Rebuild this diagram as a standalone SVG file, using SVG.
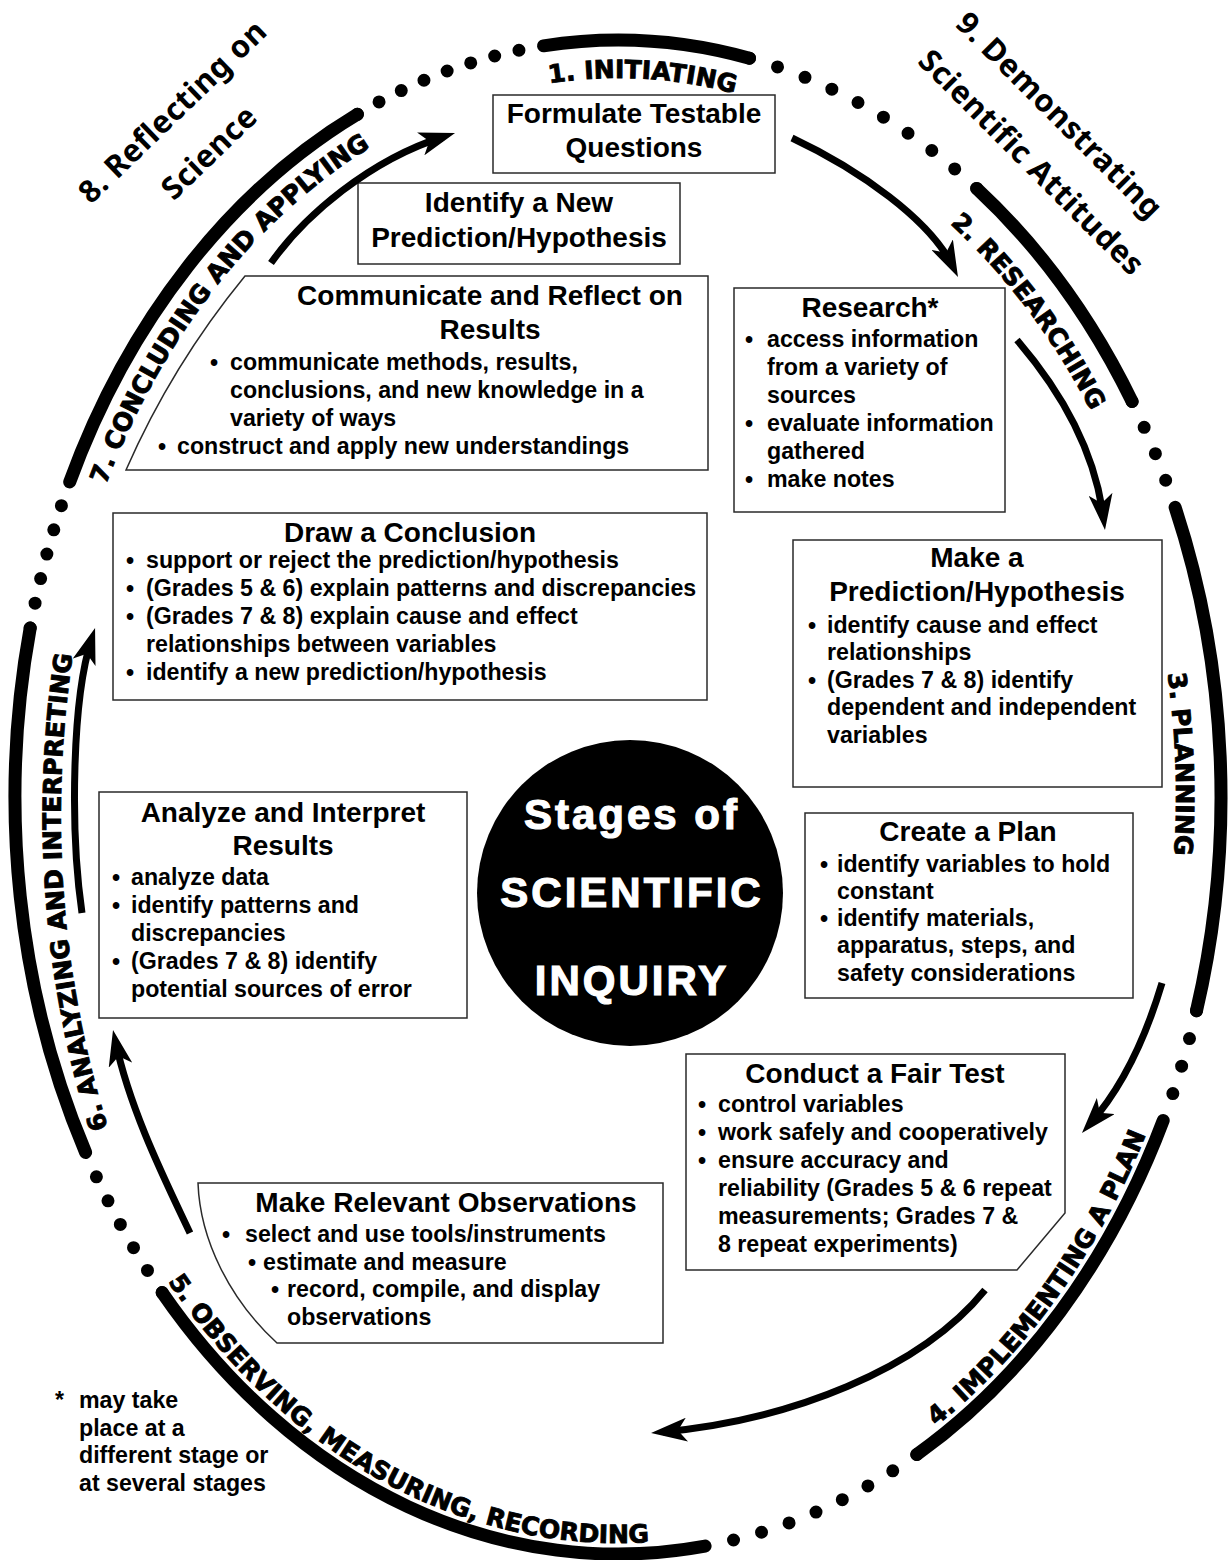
<svg xmlns="http://www.w3.org/2000/svg" width="1230" height="1560" viewBox="0 0 1230 1560">
<style>
.box{fill:#fff;stroke:#2a2a2a;stroke-width:1.5}
.t{font-family:"Liberation Sans",Arial,sans-serif;font-weight:bold;font-size:28px;text-anchor:middle;fill:#000}
.b{font-family:"Liberation Sans",Arial,sans-serif;font-weight:bold;font-size:23.2px;fill:#000}
.arc{fill:none;stroke:#000;stroke-width:13;stroke-linecap:round}
.dot{fill:none;stroke:#000;stroke-width:13;stroke-linecap:round;stroke-dasharray:0 1}
.lab{font-family:"DejaVu Sans",sans-serif;font-weight:bold;font-size:25px;fill:#000;stroke:#000;stroke-width:0.9}
.hand{font-family:"Noto Sans",sans-serif;font-weight:bold;font-size:31px;letter-spacing:0.5px;fill:#000}
.arr{fill:none;stroke:#000;stroke-width:7;marker-end:url(#ah)}
.ctr{font-family:"Liberation Sans",Arial,sans-serif;font-weight:bold;font-size:42px;letter-spacing:3px;text-anchor:middle;fill:#fff;stroke:#fff;stroke-width:1.2}
</style>
<defs>
<marker id="ah" markerUnits="userSpaceOnUse" viewBox="0 0 36 24" markerWidth="36" markerHeight="24" refX="24" refY="12" orient="auto">
<path d="M36,12 L0,0 L9,12 L0,24 Z" fill="#000"/>
</marker>
<path id="p1" d="M446.8,111.6 A566,719 0 0,1 833.7,132.3"/>
<path id="p2" d="M865.3,159.8 A564,709 0 0,1 1133.2,508.6"/>
<path id="p3" d="M1132.8,522.2 A558,712 0 0,1 1150.8,1008.7"/>
<path id="p4" d="M936.1,1426.2 A592,746 0 0,0 1201,926.5"/>
<path id="p5" d="M167.8,1281.5 A592,746 0 0,0 771.2,1517.6"/>
<path id="p6" d="M115,1150 Q28.5,890 80,610"/>
<path id="p7" d="M105.8,485 A568,722 0 0,1 471,99.6"/>
</defs>
<rect width="1230" height="1560" fill="#fff"/>

<g id="ring">
<path class="arc" d="M543.5,45.8 A603,757 0 0,1 749.5,58.2"/>
<path class="arc" d="M976.7,188.4 A603,757 0 0,1 1132.1,401.5"/>
<path class="arc" d="M1175.1,507.3 A603,757 0 0,1 1196.5,1010.7"/>
<path class="arc" d="M1163.2,1120.5 A603,757 0 0,1 916.8,1454.5"/>
<path class="arc" d="M705.1,1546.1 A603,757 0 0,1 162.2,1292.6"/>
<path class="arc" d="M85.6,1152.4 A603,757 0 0,1 30.2,628"/>
<path class="arc" d="M69.7,481.9 A603,757 0 0,1 357.4,114.3"/>
<path class="dot" pathLength="9" d="M749.5,58.2 A603,757 0 0,1 976.7,188.4"/>
<path class="dot" pathLength="4" d="M1132.1,401.5 A603,757 0 0,1 1175.1,507.3"/>
<path class="dot" pathLength="4" d="M1196.5,1010.7 A603,757 0 0,1 1163.2,1120.5"/>
<path class="dot" pathLength="8" d="M916.8,1454.5 A603,757 0 0,1 705.1,1546.1"/>
<path class="dot" pathLength="6" d="M162.2,1292.6 A603,757 0 0,1 85.6,1152.4"/>
<path class="dot" pathLength="6" d="M30.2,628 A603,757 0 0,1 69.7,481.9"/>
<path class="dot" pathLength="8" d="M357.4,114.3 A603,757 0 0,1 543.5,45.8"/>
<text class="lab"><textPath href="#p1" startOffset="50%" text-anchor="middle">1. INITIATING</textPath></text>
<text class="lab"><textPath href="#p2" startOffset="50%" text-anchor="middle">2. RESEARCHING</textPath></text>
<text class="lab"><textPath href="#p3" startOffset="50%" text-anchor="middle">3. PLANNING</textPath></text>
<text class="lab"><textPath href="#p4">4. IMPLEMENTING A PLAN</textPath></text>
<text class="lab"><textPath href="#p5">5. OBSERVING, MEASURING, RECORDING</textPath></text>
<text class="lab"><textPath href="#p6" startOffset="48%" text-anchor="middle">6. ANALYZING AND INTERPRETING</textPath></text>
<text class="lab"><textPath href="#p7">7. CONCLUDING AND APPLYING</textPath></text>
<text class="hand" transform="translate(91,205) rotate(-44)"><tspan x="0" y="0">8. Reflecting on</tspan><tspan x="62" y="55">Science</tspan></text>
<text class="hand" transform="translate(954,25) rotate(45)"><tspan x="0" y="0">9. Demonstrating</tspan><tspan x="0" y="53">Scientific Attitudes</tspan></text>
</g>

<g id="formulate">
<rect class="box" x="493" y="95" width="282" height="78"/>
<text class="t" x="634" y="123">Formulate Testable</text>
<text class="t" x="634" y="157">Questions</text>
</g>

<g id="identify-new">
<rect class="box" x="358" y="183" width="322" height="81"/>
<text class="t" x="519" y="212">Identify a New</text>
<text class="t" x="519" y="247">Prediction/Hypothesis</text>
</g>

<g id="communicate">
<path class="box" d="M245,276 L708,276 L708,470 L126,470 Q172,365 245,276 Z"/>
<text class="t" x="490" y="305">Communicate and Reflect on</text>
<text class="t" x="490" y="339">Results</text>
<text class="b" x="210" y="370">•<tspan x="230">communicate methods, results,</tspan></text>
<text class="b" x="230" y="398">conclusions, and new knowledge in a</text>
<text class="b" x="230" y="426">variety of ways</text>
<text class="b" x="158" y="454">•<tspan x="177">construct and apply new understandings</tspan></text>
</g>

<g id="research">
<rect class="box" x="734" y="288" width="271" height="224"/>
<text class="t" x="870" y="317">Research*</text>
<text class="b" x="745" y="347">•<tspan x="767">access information</tspan></text>
<text class="b" x="767" y="375">from a variety of</text>
<text class="b" x="767" y="403">sources</text>
<text class="b" x="745" y="431">•<tspan x="767">evaluate information</tspan></text>
<text class="b" x="767" y="459">gathered</text>
<text class="b" x="745" y="487">•<tspan x="767">make notes</tspan></text>
</g>

<g id="draw-conclusion">
<rect class="box" x="113" y="513" width="594" height="187"/>
<text class="t" x="410" y="542">Draw a Conclusion</text>
<text class="b" x="126" y="568">•<tspan x="146">support or reject the prediction/hypothesis</tspan></text>
<text class="b" x="126" y="596">•<tspan x="146">(Grades 5 &amp; 6) explain patterns and discrepancies</tspan></text>
<text class="b" x="126" y="624">•<tspan x="146">(Grades 7 &amp; 8) explain cause and effect</tspan></text>
<text class="b" x="146" y="652">relationships between variables</text>
<text class="b" x="126" y="680">•<tspan x="146">identify a new prediction/hypothesis</tspan></text>
</g>

<g id="make-prediction">
<rect class="box" x="793" y="540" width="369" height="247"/>
<text class="t" x="977" y="567">Make a</text>
<text class="t" x="977" y="601">Prediction/Hypothesis</text>
<text class="b" x="808" y="633">•<tspan x="827">identify cause and effect</tspan></text>
<text class="b" x="827" y="660">relationships</text>
<text class="b" x="808" y="688">•<tspan x="827">(Grades 7 &amp; 8) identify</tspan></text>
<text class="b" x="827" y="715">dependent and independent</text>
<text class="b" x="827" y="743">variables</text>
</g>

<g id="create-plan">
<rect class="box" x="805" y="813" width="328" height="185"/>
<text class="t" x="968" y="841">Create a Plan</text>
<text class="b" x="820" y="872">•<tspan x="837">identify variables to hold</tspan></text>
<text class="b" x="837" y="899">constant</text>
<text class="b" x="820" y="926">•<tspan x="837">identify materials,</tspan></text>
<text class="b" x="837" y="953">apparatus, steps, and</text>
<text class="b" x="837" y="981">safety considerations</text>
</g>

<g id="analyze">
<rect class="box" x="99" y="792" width="368" height="226"/>
<text class="t" x="283" y="822">Analyze and Interpret</text>
<text class="t" x="283" y="855">Results</text>
<text class="b" x="112" y="885">•<tspan x="131">analyze data</tspan></text>
<text class="b" x="112" y="913">•<tspan x="131">identify patterns and</tspan></text>
<text class="b" x="131" y="941">discrepancies</text>
<text class="b" x="112" y="969">•<tspan x="131">(Grades 7 &amp; 8) identify</tspan></text>
<text class="b" x="131" y="997">potential sources of error</text>
</g>

<g id="fair-test">
<path class="box" d="M686,1054 L1065,1054 L1065,1213 L1017,1270 L686,1270 Z"/>
<text class="t" x="875" y="1083">Conduct a Fair Test</text>
<text class="b" x="698" y="1112">•<tspan x="718">control variables</tspan></text>
<text class="b" x="698" y="1140">•<tspan x="718">work safely and cooperatively</tspan></text>
<text class="b" x="698" y="1168">•<tspan x="718">ensure accuracy and</tspan></text>
<text class="b" x="718" y="1196">reliability (Grades 5 &amp; 6 repeat</text>
<text class="b" x="718" y="1224">measurements; Grades 7 &amp;</text>
<text class="b" x="718" y="1252">8 repeat experiments)</text>
</g>

<g id="observations">
<path class="box" d="M198,1183 L663,1183 L663,1343 L277,1343 C230,1300 200,1240 198,1183 Z"/>
<text class="t" x="446" y="1212">Make Relevant Observations</text>
<text class="b" x="222" y="1242">•<tspan x="245">select and use tools/instruments</tspan></text>
<text class="b" x="248" y="1270">•<tspan x="263">estimate and measure</tspan></text>
<text class="b" x="271" y="1297">•<tspan x="287">record, compile, and display</tspan></text>
<text class="b" x="287" y="1325">observations</text>
</g>

<g id="center">
<circle cx="630" cy="893" r="153" fill="#000"/>
<text class="ctr" x="632" y="829">Stages of</text>
<text class="ctr" x="632" y="907">SCIENTIFIC</text>
<text class="ctr" x="632" y="995">INQUIRY</text>
</g>

<g id="footnote">
<text class="b" x="55" y="1408">*<tspan x="79">may take</tspan></text>
<text class="b" x="79" y="1436">place at a</text>
<text class="b" x="79" y="1463">different stage or</text>
<text class="b" x="79" y="1491">at several stages</text>
</g>

<g id="connectors">
<path class="arr" d="M271,263 C305,215 370,160 443.6,136.6"/>
<path class="arr" d="M792,138 C860,170 930,220 952.7,266.2"/>
<path class="arr" d="M1017,340 C1060,390 1095,450 1103.5,518.1"/>
<path class="arr" d="M1162,983 C1145,1040 1120,1090 1089.9,1124"/>
<path class="arr" d="M985,1290 C920,1370 790,1420 663,1431.9"/>
<path class="arr" d="M190,1233 C165,1180 130,1110 115.5,1041.7"/>
<path class="arr" d="M82,913 C70,830 72,700 91.4,639.4"/>
</g>
</svg>
